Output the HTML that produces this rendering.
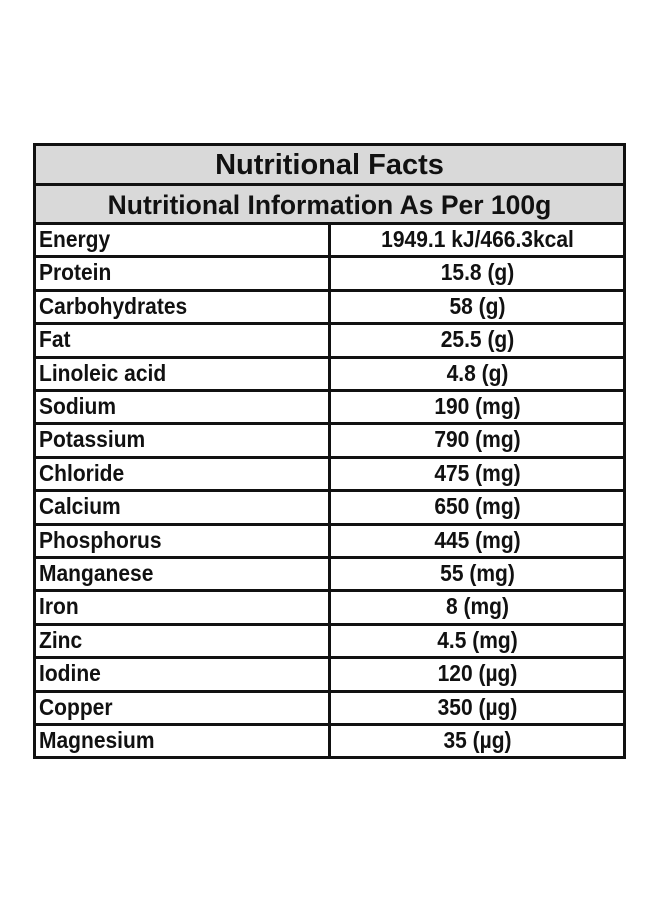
<!DOCTYPE html>
<html><head><meta charset="utf-8"><style>
body{margin:0;width:660px;height:900px;background:#fff;position:relative;font-family:"Liberation Sans",sans-serif;font-weight:bold;color:#111;overflow:hidden}
.hdr{position:absolute;left:33px;width:593px;background:#d9d9d9;text-align:center;box-sizing:border-box}
.row{position:absolute;left:33px;width:593px;box-sizing:border-box;font-size:21px}
.l{position:absolute;left:6px;top:4px;transform:scaleY(1.12);transform-origin:left top}
.v{position:absolute;left:296px;width:297px;text-align:center;top:4px;transform:scaleY(1.12);transform-origin:center top}
.line{position:absolute;background:#111}
</style></head><body>
<div class="hdr" style="top:144px;height:40px;font-size:29px;line-height:42px">Nutritional Facts</div>
<div class="hdr" style="top:184px;height:39px;font-size:26.5px;line-height:42px">Nutritional Information As Per 100g</div>
<div id="rows"></div>
<div class="line" style="left:33px;top:143px;width:593px;height:3px"></div>
<div class="line" style="left:33px;top:183px;width:593px;height:3px"></div>
<div class="line" style="left:33px;top:222px;width:593px;height:3px"></div>
<div class="line" style="left:33px;top:143px;width:3px;height:614px"></div>
<div class="line" style="left:623px;top:143px;width:3px;height:614px"></div>
<div class="line" style="left:328px;top:222px;width:3px;height:535px"></div>
<script>
const nutrients=["Energy","Protein","Carbohydrates","Fat","Linoleic acid","Sodium","Potassium","Chloride","Calcium","Phosphorus","Manganese","Iron","Zinc","Iodine","Copper","Magnesium"];
const amounts=["1949.1 kJ/466.3kcal","15.8 (g)","58 (g)","25.5 (g)","4.8 (g)","190 (mg)","790 (mg)","475 (mg)","650 (mg)","445 (mg)","55 (mg)","8 (mg)","4.5 (mg)","120 (µg)","350 (µg)","35 (µg)"];
const c=document.getElementById('rows');
const top0=223,rh=33.4;
nutrients.forEach((n,i)=>{
 const r=document.createElement('div');r.className='row';
 
 
 r.style.top=(top0+i*rh)+'px';r.style.height=rh+'px';
 const l=document.createElement('div');l.className='l';l.textContent=n;
 
 
 const v=document.createElement('div');v.className='v';v.textContent=amounts[i];
 
 
 r.appendChild(l);r.appendChild(v);c.appendChild(r);
 const ln=document.createElement('div');ln.className='line';
 
 
 ln.style.cssText='left:33px;width:593px;height:3px;top:'+(top0+(i+1)*rh-1)+'px';
 document.body.appendChild(ln);
});
</script>
</body></html>
